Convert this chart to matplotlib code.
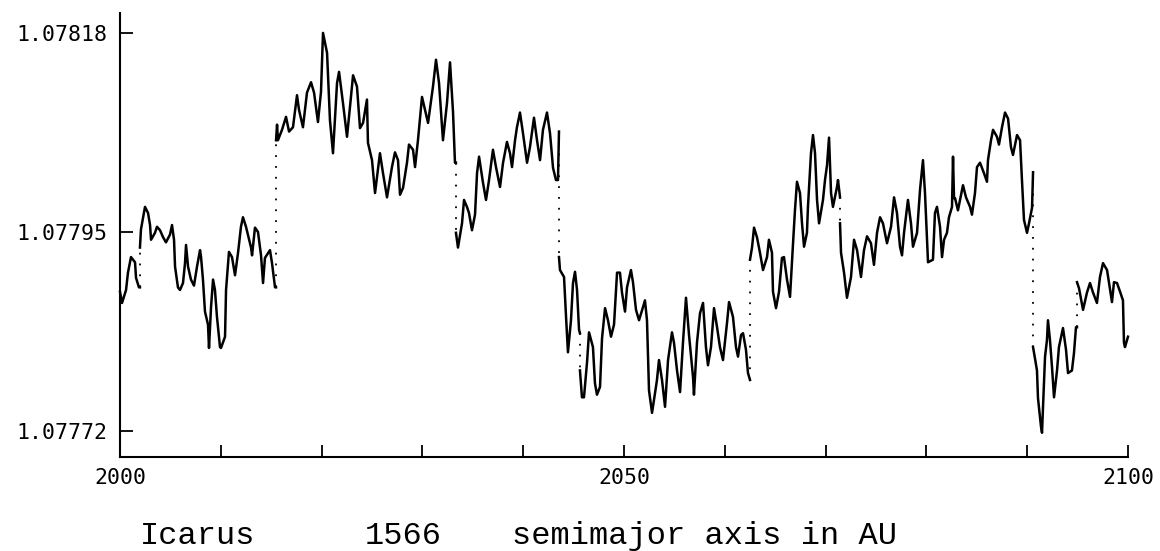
"""Icarus (1566): semimajor axis 2000-2100, with close-approach jumps."""

import matplotlib
matplotlib.use("Agg")
import matplotlib.pyplot as plt
import numpy as np

# year / semimajor axis (AU); a repeated year marks a jump
years = np.array([
    2000.00, 2000.20, 2000.60, 2000.79, 2001.09, 2001.49, 2001.59, 2001.88, 2001.98,
    2001.98, 2002.08, 2002.48, 2002.78, 2002.98, 2003.08, 2003.47, 2003.67, 2003.97,
    2004.27, 2004.56, 2004.96, 2005.16, 2005.36, 2005.46, 2005.75, 2005.95, 2006.25,
    2006.45, 2006.55, 2006.75, 2007.04, 2007.34, 2007.64, 2007.94, 2008.04, 2008.23,
    2008.43, 2008.73, 2008.83, 2009.03, 2009.23, 2009.42, 2009.62, 2009.92, 2010.02,
    2010.42, 2010.52, 2010.81, 2011.11, 2011.41, 2011.71, 2012.00, 2012.20, 2012.50,
    2013.00, 2013.10, 2013.39, 2013.69, 2013.99, 2014.19, 2014.38, 2014.88, 2015.08,
    2015.38, 2015.48,
    2015.48, 2015.58, 2015.67, 2016.07, 2016.47, 2016.77, 2017.16, 2017.56, 2017.76,
    2018.15, 2018.55, 2018.95, 2019.25, 2019.64, 2019.94, 2020.14, 2020.54, 2020.83,
    2021.13, 2021.53, 2021.73, 2022.12, 2022.52, 2022.82, 2023.12, 2023.51, 2023.81,
    2024.11, 2024.50, 2024.60, 2025.00, 2025.30, 2025.79, 2026.09, 2026.49, 2026.98,
    2027.28, 2027.58, 2027.78, 2028.08, 2028.47, 2028.67, 2029.07, 2029.27, 2029.56,
    2029.96, 2030.26, 2030.56, 2031.05, 2031.35, 2031.65, 2032.04, 2032.44, 2032.74,
    2033.04, 2033.23, 2033.33,
    2033.33, 2033.53, 2033.93, 2034.13, 2034.42, 2034.62, 2034.92, 2035.22, 2035.42,
    2035.62, 2036.01, 2036.31, 2036.61, 2037.00, 2037.30, 2037.70, 2038.00, 2038.39,
    2038.69, 2038.89, 2039.19, 2039.38, 2039.68, 2039.98, 2040.38, 2040.67, 2041.07,
    2041.37, 2041.67, 2041.96, 2042.36, 2042.66, 2042.96, 2043.25, 2043.45, 2043.55,
    2043.55, 2043.65, 2044.05, 2044.25, 2044.44, 2044.74, 2044.94, 2045.14, 2045.34,
    2045.54, 2045.63,
    2045.63, 2045.83, 2046.03, 2046.33, 2046.53, 2046.92, 2047.12, 2047.32, 2047.62,
    2047.82, 2048.12, 2048.41, 2048.71, 2049.01, 2049.31, 2049.60, 2049.80, 2050.10,
    2050.30, 2050.69, 2050.89, 2051.19, 2051.49, 2051.88, 2052.08, 2052.28, 2052.48,
    2052.78, 2053.08, 2053.27, 2053.47, 2053.77, 2054.07, 2054.37, 2054.76, 2054.96,
    2055.26, 2055.56, 2055.85, 2056.15, 2056.45, 2056.85, 2056.94, 2057.24, 2057.54,
    2057.84, 2058.13, 2058.33, 2058.63, 2058.93, 2059.23, 2059.52, 2059.82, 2060.22,
    2060.42, 2060.81, 2061.11, 2061.31, 2061.61, 2061.81, 2062.10, 2062.30, 2062.50,
    2062.50, 2062.70, 2062.90, 2063.19, 2063.49, 2063.79, 2064.19, 2064.38, 2064.68,
    2064.78, 2065.08, 2065.38, 2065.67, 2065.87, 2066.17, 2066.47, 2066.77, 2066.96,
    2067.16, 2067.46, 2067.66, 2067.86, 2068.15, 2068.25, 2068.55, 2068.75, 2068.95,
    2069.15, 2069.35, 2069.74, 2069.94, 2070.14, 2070.34, 2070.54, 2070.73, 2071.13,
    2071.23, 2071.43,
    2071.43, 2071.53, 2071.83, 2072.12, 2072.52, 2072.82, 2073.12, 2073.51, 2073.81,
    2074.11, 2074.50, 2074.80, 2075.10, 2075.40, 2075.69, 2076.09, 2076.49, 2076.79,
    2077.08, 2077.38, 2077.58, 2077.78, 2078.17, 2078.47, 2078.67, 2079.07, 2079.37,
    2079.66, 2079.86, 2080.16, 2080.65, 2080.85, 2081.05, 2081.35, 2081.55, 2081.75,
    2082.04, 2082.24, 2082.54, 2082.64, 2082.74, 2082.84, 2083.13, 2083.63, 2083.93,
    2084.33, 2084.52, 2084.82, 2085.02, 2085.32, 2085.71, 2086.01, 2086.11, 2086.41,
    2086.61, 2087.00, 2087.20, 2087.50, 2087.80, 2088.10, 2088.39, 2088.59, 2088.99,
    2089.29, 2089.48, 2089.68, 2089.98, 2090.18, 2090.48, 2090.58,
    2090.58, 2090.77, 2090.97, 2091.07, 2091.37, 2091.47, 2091.57, 2091.77, 2091.96,
    2092.06, 2092.26, 2092.46, 2092.66, 2092.96, 2093.15, 2093.55, 2093.85, 2094.05,
    2094.44, 2094.64, 2094.84, 2094.94,
    2094.94, 2095.14, 2095.54, 2095.93, 2096.23, 2096.53, 2096.92, 2097.22, 2097.52,
    2097.92, 2098.12, 2098.41, 2098.61, 2098.91, 2099.21, 2099.50, 2099.60, 2099.70,
    2100.00,
])

au = np.array([
    1.077881, 1.077868, 1.077883, 1.077903, 1.077921, 1.077915, 1.077897, 1.077886, 1.077886,
    1.077932, 1.077953, 1.077979, 1.077972, 1.077958, 1.077941, 1.077949, 1.077956, 1.077952,
    1.077944, 1.077938, 1.077947, 1.077958, 1.077941, 1.077910, 1.077886, 1.077883, 1.077891,
    1.077914, 1.077935, 1.077910, 1.077895, 1.077888, 1.077910, 1.077929, 1.077921, 1.077895,
    1.077858, 1.077843, 1.077816, 1.077863, 1.077895, 1.077883, 1.077852, 1.077817, 1.077816,
    1.077829, 1.077883, 1.077927, 1.077921, 1.077900, 1.077926, 1.077956, 1.077967, 1.077956,
    1.077932, 1.077923, 1.077955, 1.077950, 1.077923, 1.077891, 1.077920, 1.077929, 1.077914,
    1.077886, 1.077886,
    1.078056, 1.078074, 1.078056, 1.078068, 1.078083, 1.078066, 1.078071, 1.078108, 1.078091,
    1.078071, 1.078111, 1.078123, 1.078111, 1.078077, 1.078112, 1.078180, 1.078157, 1.078079,
    1.078041, 1.078122, 1.078135, 1.078099, 1.078060, 1.078095, 1.078131, 1.078118, 1.078070,
    1.078076, 1.078103, 1.078053, 1.078033, 1.077995, 1.078041, 1.078018, 1.077990, 1.078025,
    1.078042, 1.078033, 1.077993, 1.078001, 1.078030, 1.078051, 1.078045, 1.078025, 1.078056,
    1.078106, 1.078091, 1.078076, 1.078118, 1.078149, 1.078122, 1.078056, 1.078099, 1.078146,
    1.078088, 1.078030, 1.078030,
    1.077949, 1.077932, 1.077960, 1.077987, 1.077979, 1.077972, 1.077952, 1.077970, 1.078018,
    1.078037, 1.078007, 1.077987, 1.078010, 1.078045, 1.078025, 1.078002, 1.078030, 1.078054,
    1.078041, 1.078025, 1.078056, 1.078071, 1.078088, 1.078064, 1.078030, 1.078048, 1.078082,
    1.078056, 1.078033, 1.078068, 1.078088, 1.078064, 1.078024, 1.078010, 1.078010, 1.078066,
    1.077921, 1.077906, 1.077898, 1.077852, 1.077811, 1.077848, 1.077891, 1.077904, 1.077883,
    1.077837, 1.077833,
    1.077790, 1.077759, 1.077759, 1.077799, 1.077834, 1.077817, 1.077775, 1.077762, 1.077771,
    1.077827, 1.077862, 1.077848, 1.077829, 1.077843, 1.077903, 1.077903, 1.077880, 1.077858,
    1.077886, 1.077906, 1.077892, 1.077860, 1.077848, 1.077863, 1.077871, 1.077848, 1.077767,
    1.077741, 1.077764, 1.077779, 1.077802, 1.077779, 1.077748, 1.077802, 1.077834, 1.077822,
    1.077790, 1.077765, 1.077822, 1.077874, 1.077831, 1.077782, 1.077762, 1.077822, 1.077856,
    1.077868, 1.077817, 1.077796, 1.077817, 1.077862, 1.077840, 1.077817, 1.077802, 1.077845,
    1.077869, 1.077852, 1.077817, 1.077806, 1.077831, 1.077833, 1.077814, 1.077787, 1.077779,
    1.077918, 1.077932, 1.077955, 1.077944, 1.077926, 1.077906, 1.077921, 1.077941, 1.077926,
    1.077881, 1.077862, 1.077881, 1.077920, 1.077921, 1.077895, 1.077875, 1.077937, 1.077975,
    1.078008, 1.077995, 1.077960, 1.077933, 1.077949, 1.077979, 1.078041, 1.078062, 1.078041,
    1.077987, 1.077960, 1.077987, 1.078010, 1.078027, 1.078059, 1.077995, 1.077979, 1.078002,
    1.078010, 1.077990,
    1.077960, 1.077926, 1.077903, 1.077874, 1.077898, 1.077941, 1.077929, 1.077898, 1.077929,
    1.077945, 1.077937, 1.077912, 1.077949, 1.077967, 1.077960, 1.077937, 1.077956, 1.077990,
    1.077972, 1.077933, 1.077923, 1.077949, 1.077987, 1.077960, 1.077933, 1.077949, 1.077999,
    1.078033, 1.077995, 1.077915, 1.077918, 1.077972, 1.077979, 1.077956, 1.077921, 1.077941,
    1.077949, 1.077967, 1.077979, 1.078037, 1.077989, 1.077989, 1.077975, 1.078004, 1.077990,
    1.077979, 1.077970, 1.077995, 1.078025, 1.078030, 1.078018, 1.078008, 1.078033, 1.078056,
    1.078068, 1.078060, 1.078051, 1.078071, 1.078088, 1.078081, 1.078048, 1.078039, 1.078062,
    1.078056, 1.078010, 1.077964, 1.077949, 1.077960, 1.077978, 1.078019,
    1.077817, 1.077804, 1.077790, 1.077758, 1.077725, 1.077718, 1.077748, 1.077806, 1.077825,
    1.077848, 1.077825, 1.077794, 1.077759, 1.077790, 1.077817, 1.077839, 1.077814, 1.077787,
    1.077790, 1.077810, 1.077840, 1.077840,
    1.077892, 1.077885, 1.077860, 1.077880, 1.077891, 1.077880, 1.077868, 1.077898, 1.077914,
    1.077906, 1.077891, 1.077869, 1.077892, 1.077891, 1.077881, 1.077871, 1.077822, 1.077817,
    1.077829,
])

y_ticks = [1.07772, 1.07795, 1.07818]
x_ticks = np.arange(2000, 2101, 10)
x_labeled = [2000, 2050, 2100]
caption = ["Icarus", "1566", "semimajor axis in AU"]

assert len(years) == len(au)

W, H = 1160, 551
fig = plt.figure(figsize=(W / 100, H / 100), dpi=100)
ax = fig.add_axes([120 / W, 1 - 457 / H, (1128 - 120) / W, (457 - 13) / H])

# split where a year repeats: solid arcs between, dotted jump at the repeat
jumps = np.where(np.diff(years) == 0)[0]
starts = np.r_[0, jumps + 1]
ends = np.r_[jumps + 1, len(years)]
for s, e in zip(starts, ends):
    ax.plot(years[s:e], au[s:e], color="black", lw=1.8, clip_on=False)
for j in jumps:
    ax.plot(years[j:j + 2], au[j:j + 2], color="black", lw=1.3,
            ls=(0, (1, 5)), clip_on=False)

ax.set_xlim(2000, 2100)
ax.set_ylim(1.077690, 1.078203)
for side in ("top", "right"):
    ax.spines[side].set_visible(False)
for side in ("left", "bottom"):
    ax.spines[side].set_linewidth(1.5)

ax.set_xticks(x_ticks)
ax.set_xticklabels([str(t) if t in x_labeled else "" for t in x_ticks])
ax.set_yticks(y_ticks)
ax.set_yticklabels([f"{v:.5f}" for v in y_ticks])
ax.tick_params(direction="in", length=9, width=1.3, labelsize=15.5)
ax.tick_params(axis="x", pad=8)
ax.tick_params(axis="y", pad=9)
for lab in ax.get_xticklabels() + ax.get_yticklabels():
    lab.set_family("DejaVu Sans Mono")

for x_px, word in zip([140, 365, 512], caption):
    fig.text(x_px / W, 1 - 536 / H, word, family="Liberation Mono",
             fontsize=23, va="center", ha="left")

fig.savefig("out.png", dpi=100)
